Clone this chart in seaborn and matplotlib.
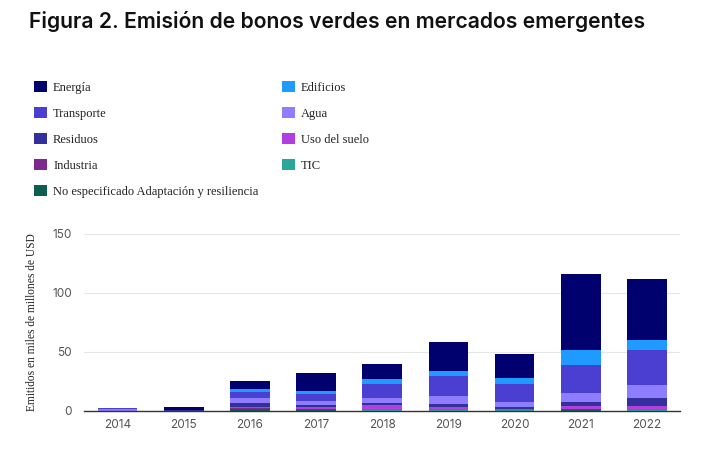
import numpy as np
import pandas as pd
import seaborn as sns
import matplotlib.pyplot as plt
from matplotlib.patches import Patch

sns.set_theme(style="whitegrid")

# ----------------------------
# Data (miles de millones de USD)
# ----------------------------
years = ["2014", "2015", "2016", "2017", "2018", "2019", "2020", "2021", "2022"]

energia = [0.0, 2.5, 7.0, 15.0, 12.8, 24.0, 21.0, 65.0, 51.4]
edificios = [0.0, 0.0, 2.6, 2.6, 3.6, 4.8, 5.0, 12.0, 8.8]
transporte = [0.6, 0.0, 4.5, 5.7, 11.8, 17.0, 15.0, 24.3, 29.3]
agua = [1.6, 0.0, 4.8, 3.7, 4.6, 6.8, 4.2, 7.6, 11.3]
residuos = [0.0, 0.6, 2.9, 2.0, 2.0, 2.2, 1.4, 3.4, 7.0]
uso_suelo = [0.0, 0.0, 0.8, 1.5, 3.8, 2.3, 1.0, 2.6, 3.2]
industria = [0.0, 0.0, 1.0, 0.8, 0.5, 0.5, 0.5, 0.6, 0.4]
tic = [0.0, 0.0, 0.4, 0.2, 0.2, 0.2, 0.2, 0.3, 0.2]
no_especificado = [0.0, 0.0, 1.4, 0.6, 0.3, 0.4, 0.3, 0.5, 0.3]

# stacking order, bottom -> top
sectors = [
    ("No especificado Adaptación y resiliencia", no_especificado, "#0b5e50"),
    ("TIC", tic, "#2aa69a"),
    ("Industria", industria, "#7d2a8e"),
    ("Uso del suelo", uso_suelo, "#b03ee0"),
    ("Residuos", residuos, "#332f9c"),
    ("Agua", agua, "#8e7dff"),
    ("Transporte", transporte, "#4a3fd0"),
    ("Edificios", edificios, "#1f9bff"),
    ("Energía", energia, "#00006e"),
]

legend_order = [
    "Energía", "Transporte", "Residuos", "Industria",
    "No especificado Adaptación y resiliencia",
    "Edificios", "Agua", "Uso del suelo", "TIC",
]

df = pd.DataFrame({name: vals for name, vals, _ in sectors}, index=years)
cum = df.cumsum(axis=1)

# ----------------------------
# Figure
# ----------------------------
fig = plt.figure(figsize=(7.01, 4.5), dpi=100)
ax = fig.add_axes([0.1205, 0.0867, 0.8495, 0.3933])

# draw cumulative bars from the top of the stack downward
for name, _, color in reversed(sectors):
    sns.barplot(x=years, y=cum[name].values, color=color, width=0.6,
                saturation=1, ax=ax, linewidth=0)

ax.set_ylim(0, 150)
ax.set_yticks([0, 50, 100, 150])
ax.set_xlim(-0.5, 8.5)
ax.grid(axis="x", visible=False)
ax.grid(axis="y", color="#e6e6e6", linewidth=0.8)
for side in ["left", "right", "top"]:
    ax.spines[side].set_visible(False)
ax.spines["bottom"].set_color("#333333")
ax.spines["bottom"].set_linewidth(1.0)
ax.tick_params(axis="both", length=0, labelsize=8.5, labelcolor="#555555", pad=6)
ax.tick_params(axis="y", pad=9)
for lab in ax.get_xticklabels() + ax.get_yticklabels():
    lab.set_family("Inter")
ax.set_ylabel("Emitidos en miles de millones de USD", family="Liberation Serif",
              fontsize=8.3, color="#222222", labelpad=10)

fig.text(0.041, 0.953, "Figura 2. Emisión de bonos verdes en mercados emergentes",
         family="Inter", fontweight="semibold", fontsize=15.2, color="#111111",
         ha="left", va="center")

colors = {name: color for name, _, color in sectors}
handles = [Patch(facecolor=colors[n], edgecolor="none", label=n) for n in legend_order]
fig.legend(handles=handles, loc="upper left", bbox_to_anchor=(0.033, 0.845), ncol=2,
           frameon=False, prop={"family": "Liberation Serif", "size": 9},
           handlelength=1.0, handleheight=1.0, handletextpad=0.5,
           labelspacing=1.05, columnspacing=1.9, labelcolor="#222222")

fig.savefig("out.png", dpi=100)
